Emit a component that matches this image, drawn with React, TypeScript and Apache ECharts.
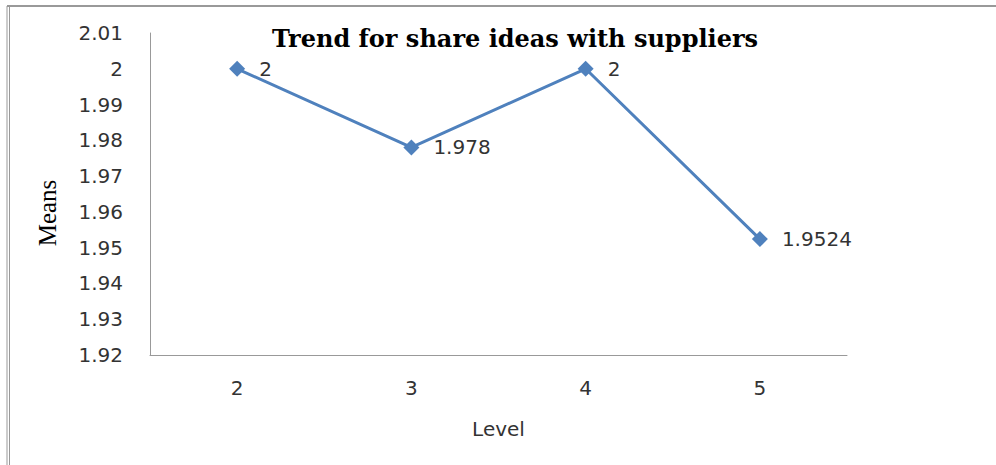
import React, { useEffect, useRef } from "react";
import * as echarts from "echarts";

const categories = ["2", "3", "4", "5"];
const means = [2, 1.978, 2, 1.9524];
const labels = ["2", "1.978", "2", "1.9524"];
const yMin = 1.92;
const yMax = 2.01;
const yInterval = 0.01;

export default function App() {
  const ref = useRef<HTMLDivElement>(null);
  useEffect(() => {
    document.body.style.margin = "0";
    const chart = echarts.init(ref.current!, null, { renderer: "svg" });
    chart.setOption({
      animation: false,
      backgroundColor: "#ffffff",
      title: {
        text: "Trend for share ideas with suppliers",
        left: 510,
        top: 21,
        textAlign: "center",
        textStyle: {
          fontFamily: "DejaVu Serif",
          fontWeight: "bold",
          fontSize: 24,
          color: "#000",
        },
      },
      graphic: [
        { type: "line", shape: { x1: 7, y1: 6, x2: 996, y2: 6 }, style: { stroke: "#999", lineWidth: 2 } },
        { type: "line", shape: { x1: 7, y1: 6, x2: 7, y2: 465 }, style: { stroke: "#999", lineWidth: 1 } },
        { type: "line", shape: { x1: 9.5, y1: 6, x2: 9.5, y2: 465 }, style: { stroke: "#999", lineWidth: 1 } },
        {
          type: "text",
          x: 47,
          y: 213,
          rotation: Math.PI / 2,
          style: {
            text: "Means",
            fontFamily: "Liberation Serif",
            fontSize: 25,
            fill: "#000",
            align: "center",
            verticalAlign: "middle",
          },
        },
      ],
      grid: { left: 150, top: 33, width: 697, height: 322, containLabel: false },
      xAxis: {
        type: "category",
        data: categories,
        boundaryGap: true,
        name: "Level",
        nameLocation: "middle",
        nameGap: 64,
        nameTextStyle: { fontFamily: "DejaVu Sans", fontSize: 20, color: "#333" },
        axisLine: { lineStyle: { color: "#999", width: 1 } },
        axisTick: { show: false },
        axisLabel: { fontFamily: "DejaVu Sans", fontSize: 20, color: "#333", margin: 23 },
      },
      yAxis: {
        type: "value",
        min: yMin,
        max: yMax,
        interval: yInterval,
        axisLine: { show: true, lineStyle: { color: "#999", width: 1 } },
        axisTick: { show: false },
        splitLine: { show: false },
        axisLabel: {
          fontFamily: "DejaVu Sans",
          fontSize: 20,
          color: "#333",
          margin: 27,
          formatter: (v: number) => String(parseFloat(v.toFixed(4))),
        },
      },
      series: [
        {
          type: "line",
          data: means.map((v, i) => ({ value: v, label: { formatter: labels[i] } })),
          symbol: "diamond",
          symbolSize: 16,
          lineStyle: { color: "#4F81BD", width: 3 },
          itemStyle: { color: "#4F81BD" },
          label: {
            show: true,
            position: "right",
            distance: 14,
            fontFamily: "DejaVu Sans",
            fontSize: 20,
            color: "#333",
          },
        },
      ],
    });
    return () => chart.dispose();
  }, []);
  return <div ref={ref} style={{ width: 996, height: 465 }} />;
}
